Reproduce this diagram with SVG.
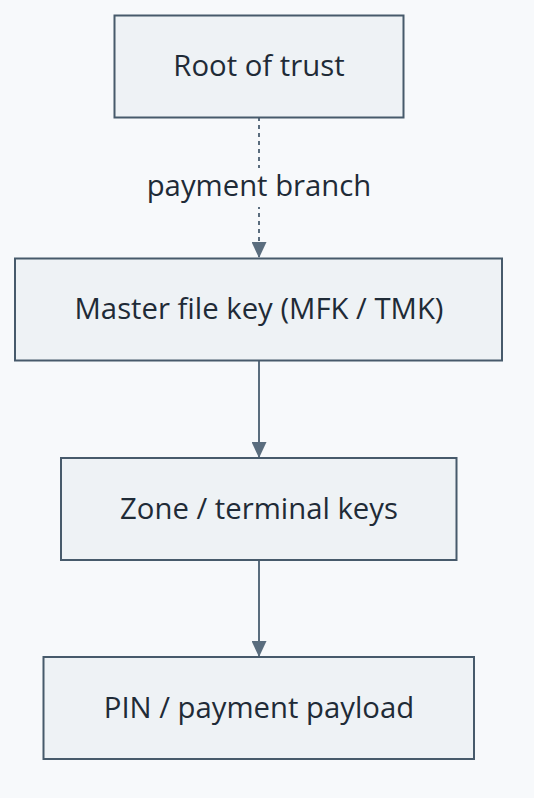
<svg xmlns="http://www.w3.org/2000/svg" width="534" height="798" viewBox="0 0 534 798">
<style>
.box{fill:#eef2f5;stroke:#475a6b;stroke-width:2}
.lbl{font-family:"Open Sans","Noto Sans",sans-serif;font-size:29.3px;fill:#1f2b37;text-anchor:middle}
.edge{stroke:#5a6d7e;stroke-width:2;fill:none}
</style>
<defs>
<marker id="arr" markerUnits="userSpaceOnUse" markerWidth="16" markerHeight="15" refX="16" refY="7.5" orient="auto">
<path d="M0,0 L16,7.5 L0,15 Z" fill="#5a6d7e"/>
</marker>
</defs>
<rect x="0" y="0" width="534" height="798" fill="#f7f9fb"/>
<g id="connectors">
<line class="edge" x1="259" y1="117" x2="259" y2="258" stroke-dasharray="4 4" marker-end="url(#arr)"/>
<line class="edge" x1="259" y1="360" x2="259" y2="458" marker-end="url(#arr)"/>
<line class="edge" x1="259" y1="560" x2="259" y2="657" marker-end="url(#arr)"/>
<rect x="147" y="168" width="225" height="39" fill="#f7f9fb"/>
<text class="lbl" x="259" y="196">payment branch</text>
</g>
<g id="root">
<rect class="box" x="114.5" y="15.5" width="289" height="102"/>
<text class="lbl" x="259" y="76">Root of trust</text>
</g>
<g id="mfk">
<rect class="box" x="15" y="258.5" width="487" height="102"/>
<text class="lbl" x="259" y="319">Master file key (MFK / TMK)</text>
</g>
<g id="zone">
<rect class="box" x="61" y="458" width="395.5" height="102"/>
<text class="lbl" x="259" y="519">Zone / terminal keys</text>
</g>
<g id="pin">
<rect class="box" x="43.5" y="657" width="430.5" height="102"/>
<text class="lbl" x="259" y="718">PIN / payment payload</text>
</g>
</svg>
